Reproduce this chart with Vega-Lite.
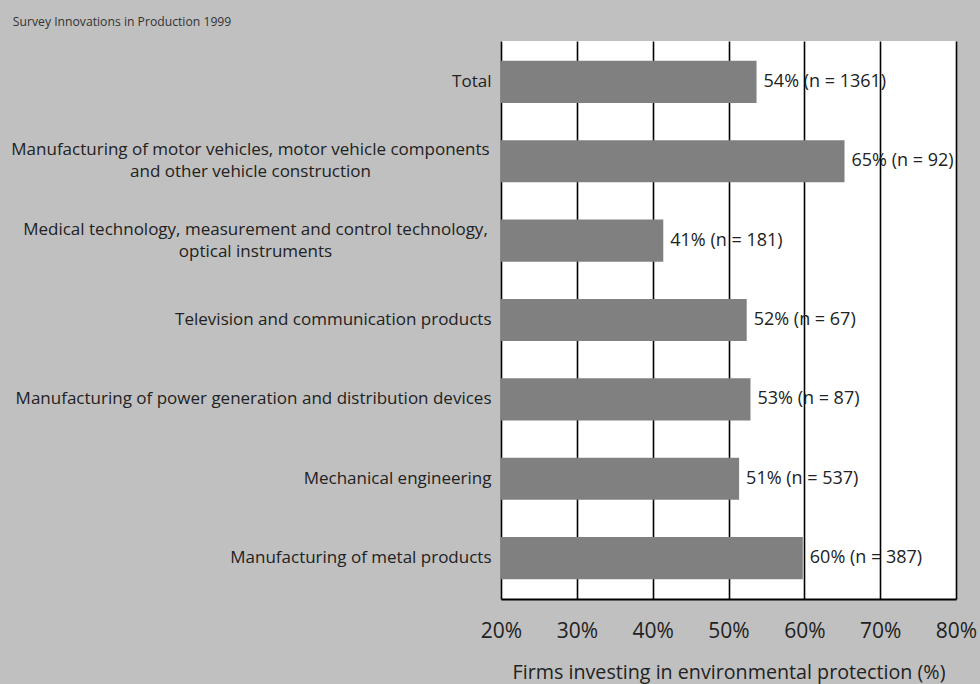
{
  "$schema": "https://vega.github.io/schema/vega-lite/v6.json",
  "width": 455,
  "height": 558,
  "padding": {"left": 10, "top": 15, "right": 5, "bottom": 5},
  "background": "#c0c0c0",
  "title": {"text": "Survey Innovations in Production 1999", "anchor": "start", "frame": "bounds", "fontSize": 12.2, "fontWeight": "normal", "font": "Open Sans", "color": "#333333", "offset": 13, "dx": 2},
  "data": {"values": [
    {"sector": "Total", "pct": 53.7, "label": "54% (n = 1361)"},
    {"sector": "Manufacturing of motor vehicles, motor vehicle components|and other vehicle construction", "pct": 65.3, "label": "65% (n = 92)"},
    {"sector": "Medical technology, measurement and control technology,|optical instruments", "pct": 41.4, "label": "41% (n = 181)"},
    {"sector": "Television and communication products", "pct": 52.4, "label": "52% (n = 67)"},
    {"sector": "Manufacturing of power generation and distribution devices", "pct": 52.9, "label": "53% (n = 87)"},
    {"sector": "Mechanical engineering", "pct": 51.4, "label": "51% (n = 537)"},
    {"sector": "Manufacturing of metal products", "pct": 59.8, "label": "60% (n = 387)"}
  ]},
  "encoding": {
    "y": {
      "field": "sector", "type": "nominal", "sort": null,
      "scale": {"paddingInner": 0.47, "paddingOuter": 0.25},
      "axis": {
        "title": null, "domain": false, "ticks": false,
        "labelPadding": {"condition": [
          {"test": "indexof(datum.value, 'Medical') >= 0", "value": 246},
          {"test": "indexof(datum.value, '|') >= 0", "value": 251}
        ], "value": 10},
        "labelAlign": {"condition": {"test": "indexof(datum.value, '|') >= 0", "value": "center"}, "value": "right"},
        "labelOffset": {"condition": {"test": "indexof(datum.value, '|') >= 0", "value": -11}, "value": 0},
        "labelFontSize": 17, "labelFont": "Open Sans", "labelColor": "#222222",
        "labelLimit": 600, "labelLineHeight": 22,
        "labelExpr": "split(datum.label, '|')"
      }
    }
  },
  "layer": [
    {
      "mark": {"type": "bar", "color": "#808080", "clip": true},
      "encoding": {
        "x": {
          "field": "pct", "type": "quantitative",
          "scale": {"domain": [20, 80], "zero": false, "nice": false},
          "axis": {
            "title": "Firms investing in environmental protection (%)",
            "values": [20, 30, 40, 50, 60, 70, 80],
            "labelExpr": "datum.value + '%'",
            "grid": true, "gridColor": "#000000", "gridWidth": 1.6, "gridOpacity": 1,
            "domainColor": "#000000", "domainWidth": 2,
            "ticks": false, "labelPadding": 21, "labelFontSize": 21, "labelFont": "Open Sans",
            "labelColor": "#222222", "labelFlush": false,
            "titleFontSize": 19.7, "titleFontWeight": "normal", "titleFont": "Open Sans",
            "titleColor": "#222222", "titlePadding": 21
          }
        }
      }
    },
    {
      "mark": {"type": "text", "align": "left", "baseline": "middle", "dx": 7, "fontSize": 18, "font": "Open Sans", "color": "#222222"},
      "encoding": {
        "x": {"field": "pct", "type": "quantitative"},
        "text": {"field": "label"}
      }
    }
  ],
  "config": {"view": {"fill": "#ffffff", "stroke": null}}
}
